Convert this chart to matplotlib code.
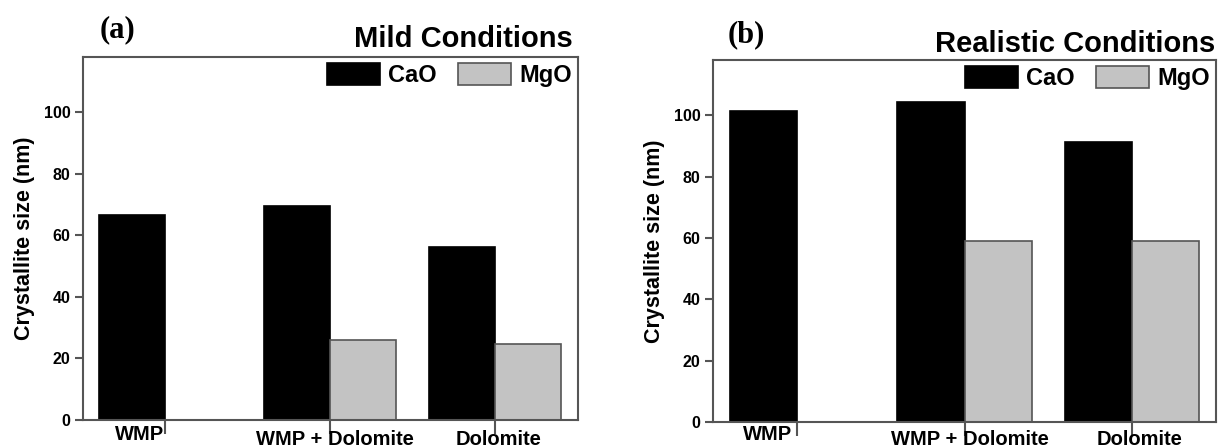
import numpy as np
import matplotlib
matplotlib.use('Agg')
import matplotlib.pyplot as plt
import matplotlib.transforms as mtransforms

plt.rcParams['font.family'] = ['Liberation Sans', 'DejaVu Sans']
plt.rcParams['font.weight'] = 'bold'

# data
samples = ['WMP', 'WMP + Dolomite', 'Dolomite']
mild_cao = [66.5, 69.6, 56.1]
mild_mgo = [np.nan, 26.1, 24.7]
real_cao = [101.3, 104.2, 91.3]
real_mgo = [np.nan, 58.9, 58.9]
yticks = [0, 20, 40, 60, 80, 100]

CAO_COL = 'black'
MGO_COL = '#c3c3c3'
SPINE_COL = '#555555'

fig = plt.figure(figsize=(12.18, 4.48), dpi=100)
ax_a = fig.add_axes([0.0681, 0.0625, 0.4064, 0.8103])
ax_b = fig.add_axes([0.5854, 0.058, 0.4130, 0.808])


def panel(ax, cao, mgo, lab_shift):
    x = np.arange(1, len(samples) + 1)
    w = 0.4
    ax.bar(x - w / 2, cao, w, color=CAO_COL, edgecolor='black',
           linewidth=1.2, label='CaO')
    ax.bar(x + w / 2, mgo, w, color=MGO_COL, edgecolor=SPINE_COL,
           linewidth=1.2, label='MgO')
    ax.set_xlim(0.5, 3.5)
    ax.set_ylim(0, 118)
    ax.set_yticks(yticks)
    ax.set_xticks(x)
    ax.set_xticklabels(samples, fontsize=14.5, fontweight='bold')
    for s in ax.spines.values():
        s.set_color(SPINE_COL)
        s.set_linewidth(1.5)
    ax.tick_params(axis='y', direction='out', length=6, width=1.5,
                   color=SPINE_COL, labelsize=11.5, pad=3)
    ax.tick_params(axis='x', direction='out', length=10, width=1.5,
                   color=SPINE_COL, pad=2)
    for lab in ax.get_yticklabels():
        lab.set_fontweight('bold')
    # shift the category labels like in the original
    for lab, (dx, dy) in zip(ax.get_xticklabels(), lab_shift):
        off = mtransforms.ScaledTranslation(dx / 100, dy / 100,
                                            fig.dpi_scale_trans)
        lab.set_transform(lab.get_transform() + off)
    ax.set_ylabel('Crystallite size (nm)', fontsize=15.5,
                  fontweight='bold', labelpad=6)
    leg = ax.legend(loc='upper right', ncol=2, frameon=False,
                    fontsize=17, handlelength=2.25, handleheight=1.06,
                    handletextpad=0.34, columnspacing=0.93,
                    borderaxespad=0.25, borderpad=0.0)
    for t in leg.get_texts():
        t.set_fontweight('bold')


panel(ax_a, mild_cao, mild_mgo, [(-26, 12), (4, 7), (3, 7)])
panel(ax_b, real_cao, real_mgo, [(-29, 14), (5, 9), (7, 9)])

fig.text(0.4704, 0.895, 'Mild Conditions', ha='right', va='baseline',
         fontsize=21, fontweight='bold')
fig.text(0.9975, 0.884, 'Realistic Conditions', ha='right',
         va='baseline', fontsize=21, fontweight='bold')
fig.text(0.082, 0.933, '(a)', ha='left', va='center', fontsize=22,
         fontweight='bold', family=['Liberation Serif', 'DejaVu Serif'])
fig.text(0.597, 0.922, '(b)', ha='left', va='center', fontsize=22,
         fontweight='bold', family=['Liberation Serif', 'DejaVu Serif'])

fig.savefig('out.png', dpi=100)
